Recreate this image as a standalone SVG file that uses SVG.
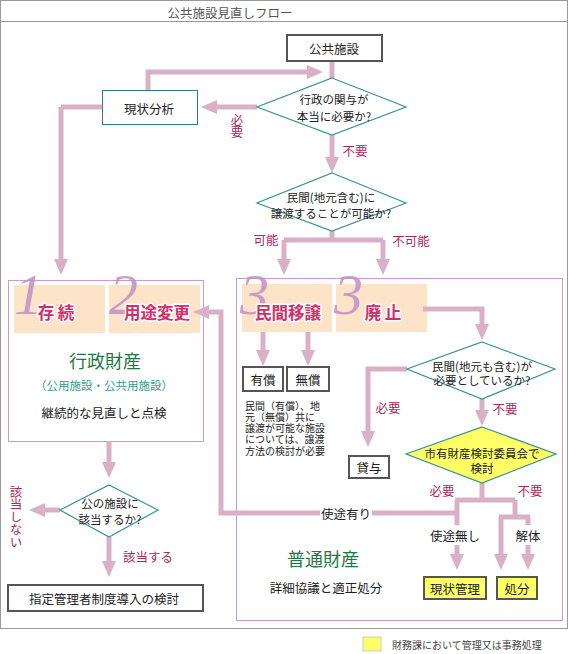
<svg xmlns="http://www.w3.org/2000/svg" width="569" height="654" viewBox="0 0 569 654">
<style>
text{font-family:"Noto Sans CJK JP","Noto Sans",sans-serif;fill:#222;dominant-baseline:central;text-anchor:middle}
.t{font-size:12.5px}
.s{font-size:11.5px}
.lab{font-size:12.5px;fill:#a82a5c}
.vlab{font-size:12.5px;fill:#a82a5c;writing-mode:vertical-rl}
.num{font-family:"Liberation Serif",serif;font-style:italic;font-size:58px;fill:#c08ec6;fill-opacity:0.85;text-anchor:start;dominant-baseline:alphabetic}
.hd{font-size:16.5px;font-weight:bold;fill:#d0306a;stroke:#fff;stroke-width:3px;paint-order:stroke;stroke-linejoin:round}
.grn{font-size:18px;fill:#1f7a3f}
.box{fill:#fff;stroke:#555;stroke-width:2}
.ybox{fill:#ffff66;stroke:#555;stroke-width:2}
.tbox{fill:#fff;stroke:#2e8080;stroke-width:1}
.dia{fill:#fff;stroke:#3a9393;stroke-width:1.2}
.ydia{fill:#ffff66;stroke:#3a9393;stroke-width:1.2}
.pch{fill:#fde4c8}
.grp{fill:none;stroke:#cc99cc;stroke-width:1}
.c{fill:none;stroke:#d9b0c5;stroke-width:5}
.ca{fill:none;stroke:#d9b0c5;stroke-width:5;marker-end:url(#ah)}
.para{font-size:10px;text-anchor:start;fill:#222}
</style>
<defs>
<marker id="ah" markerUnits="userSpaceOnUse" markerWidth="16" markerHeight="14" refX="0" refY="7" orient="auto" overflow="visible">
<path d="M0,0 L16,7 L0,14 Z" fill="#d9b0c5"/>
</marker>
</defs>

<g id="frame">
<rect x="0.5" y="0.5" width="567" height="628" fill="#fff" stroke="#999" stroke-width="1"/>
<line x1="0" y1="21.5" x2="568" y2="21.5" stroke="#999" stroke-width="1"/>
<text x="230" y="12" style="font-size:12.5px;fill:#555">公共施設見直しフロー</text>
</g>

<g id="group-gyosei">
<rect class="grp" x="8.5" y="280.5" width="195" height="161"/>
<rect class="pch" x="14" y="285" width="91" height="48"/>
<rect class="pch" x="109" y="285" width="91" height="48"/>
<text class="num" x="14" y="314">1</text>
<text class="num" x="109" y="314">2</text>
<text class="hd" x="56" y="312">存 続</text>
<text class="hd" x="157" y="312">用途変更</text>
<text class="grn" x="105" y="360">行政財産</text>
<text class="s" x="104" y="385" style="fill:#3a9a8a">（公用施設・公共用施設）</text>
<text class="t" x="104" y="412">継続的な見直しと点検</text>
</g>

<g id="group-futsu">
<rect class="grp" x="236.5" y="278.5" width="326" height="342"/>
<rect class="pch" x="242" y="284" width="90" height="48"/>
<rect class="pch" x="336" y="284" width="91" height="48"/>
<text class="num" x="240" y="314">3</text>
<text class="num" x="334" y="314">3</text>
<text class="hd" x="288" y="312">民間移譲</text>
<text class="hd" x="383" y="312">廃 止</text>
<text class="grn" x="323" y="558">普通財産</text>
<text class="t" x="326" y="587">詳細協議と適正処分</text>
</g>

<g id="connectors">
<path class="c" d="M332,61 V78"/>
<path class="ca" d="M148,90 V72 H307"/>
<path class="ca" d="M257,107 H217"/>
<path class="c" d="M102,107 H61"/>
<path class="ca" d="M61,107 V259"/>
<path class="ca" d="M332,135 V157"/>
<path class="c" d="M332,231 V240 M284,240 H383"/>
<path class="ca" d="M284,240 V259"/>
<path class="ca" d="M383,240 V259"/>
<path class="ca" d="M263,332 V350"/>
<path class="ca" d="M308,332 V350"/>
<path class="ca" d="M423,309 H482 V324"/>
<path class="ca" d="M407,369 H368 V431"/>
<path class="ca" d="M482,399 V410"/>
<path class="c" d="M482,483 V500 M455,500 H515"/>
<path class="ca" d="M457,500 V554"/>
<path class="ca" d="M457,513 H221 V312 H209"/>
<path class="c" d="M515,500 V517 M499,517 H530"/>
<path class="ca" d="M501,517 V554"/>
<path class="ca" d="M528,517 V554"/>
<path class="ca" d="M109,441 V462"/>
<path class="ca" d="M60,510 H45"/>
<path class="ca" d="M109,537 V561"/>
</g>

<g id="labels">
<text class="vlab" x="237" y="126">必要</text>
<text class="lab" x="355" y="150">不要</text>
<text class="lab" x="266" y="239">可能</text>
<text class="lab" x="411" y="240">不可能</text>
<text class="lab" x="388" y="407">必要</text>
<text class="lab" x="505" y="408">不要</text>
<text class="lab" x="442" y="490">必要</text>
<text class="lab" x="530" y="490">不要</text>
<text class="vlab" x="16" y="517">該当しない</text>
<text class="lab" x="148" y="556">該当する</text>
<rect x="320" y="505" width="52" height="16" fill="#fff"/>
<text class="t" x="346" y="513">使途有り</text>
<rect x="427" y="525" width="56" height="20" fill="#fff"/>
<text class="t" x="455" y="535">使途無し</text>
<rect x="514" y="525" width="28" height="20" fill="#fff"/>
<text class="t" x="528" y="535">解体</text>
</g>

<g id="n-kokyoshisetsu">
<rect class="box" x="287" y="35" width="95" height="26"/>
<text class="t" x="334" y="48">公共施設</text>
</g>

<g id="n-gyosei-q">
<polygon class="dia" points="332,78 406,107 332,135 257,107"/>
<text class="s" x="334" y="99">行政の関与が</text>
<text class="s" x="334" y="116">本当に必要か?</text>
</g>

<g id="n-genjo">
<rect class="tbox" x="102.5" y="90.5" width="95" height="34"/>
<text class="t" x="149" y="108">現状分析</text>
</g>

<g id="n-joto-q">
<polygon class="dia" points="332,173 406,203 332,231 257,203"/>
<text class="s" x="331" y="197">民間(地元含む)に</text>
<text class="s" x="331" y="213">譲渡することが可能か?</text>
</g>

<g id="n-yusho">
<rect class="box" x="243" y="367" width="40" height="24"/>
<text class="t" x="263" y="379">有償</text>
</g>

<g id="n-musho">
<rect class="box" x="287" y="367" width="42" height="24"/>
<text class="t" x="308" y="379">無償</text>
</g>

<g id="n-note">
<text class="para"><tspan x="245" y="405">民間（有償）、地</tspan><tspan x="245" y="416">元（無償）共に</tspan><tspan x="245" y="427">譲渡が可能な施設</tspan><tspan x="245" y="438">については、譲渡</tspan><tspan x="245" y="450">方法の検討が必要</tspan></text>
</g>

<g id="n-minkan-q">
<polygon class="dia" points="482,342 555,369 482,399 407,369"/>
<text class="s" x="482" y="366">民間(地元も含む)が</text>
<text class="s" x="482" y="380">必要としているか?</text>
</g>

<g id="n-taiyo">
<rect class="box" x="349" y="456" width="40" height="22"/>
<text class="t" x="369" y="467">貸与</text>
</g>

<g id="n-iinkai">
<polygon class="ydia" points="482,427 556,454 482,483 406,454"/>
<text class="s" x="482" y="453">市有財産検討委員会で</text>
<text class="s" x="482" y="468">検討</text>
</g>

<g id="n-genjokanri">
<rect class="ybox" x="424" y="577" width="62" height="22"/>
<text class="t" x="455" y="588">現状管理</text>
</g>

<g id="n-shobun">
<rect class="ybox" x="497" y="577" width="40" height="22"/>
<text class="t" x="517" y="588">処分</text>
</g>

<g id="n-kono-q">
<polygon class="dia" points="109,485 158,510 109,537 60,510"/>
<text class="s" x="110" y="503">公の施設に</text>
<text class="s" x="110" y="519">該当するか?</text>
</g>

<g id="n-shitei">
<rect class="box" x="8" y="585" width="195" height="26"/>
<text class="t" x="104" y="598">指定管理者制度導入の検討</text>
</g>

<g id="legend">
<rect x="363" y="637" width="18" height="14" fill="#ffff66" stroke="#ccc" stroke-width="1"/>
<text x="392" y="644" style="font-size:10px;fill:#444;text-anchor:start">財務課において管理又は事務処理</text>
</g>
</svg>
